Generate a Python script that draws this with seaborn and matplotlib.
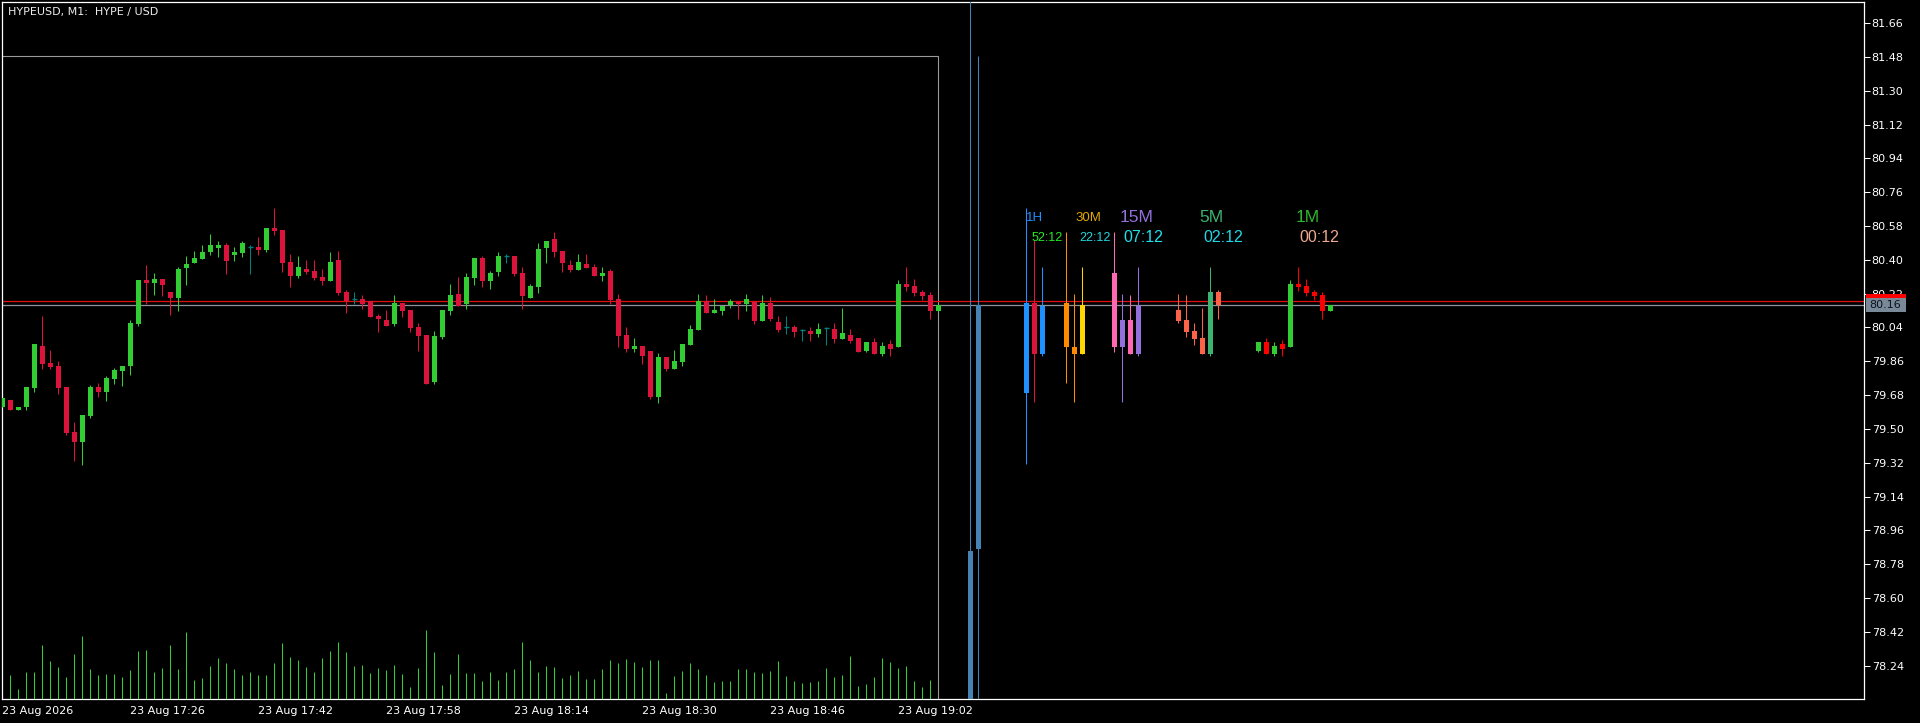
import seaborn as sns
import matplotlib.pyplot as plt
from matplotlib.patches import Rectangle
from matplotlib.transforms import blended_transform_factory

# ---- M1 candles, 17:10 .. 19:07 ----
opens = [79.619, 79.654, 79.601, 79.617, 79.718, 79.942, 79.852, 79.836, 79.724, 79.484,
         79.431, 79.569, 79.724, 79.697, 79.766, 79.809, 79.836, 80.059, 80.294, 80.277,
         80.299, 80.230, 80.198, 80.357, 80.384, 80.405, 80.443, 80.464, 80.480, 80.427,
         80.437, 80.469, 80.469, 80.453, 80.570, 80.560, 80.389, 80.315, 80.352, 80.341,
         80.309, 80.288, 80.400, 80.230, 80.192, 80.192, 80.182, 80.102, 80.081, 80.059,
         80.171, 80.134, 80.043, 80.001, 79.750, 79.990, 80.128, 80.219, 80.166, 80.304,
         80.411, 80.288, 80.336, 80.419, 80.421, 80.331, 80.198, 80.256, 80.464, 80.512,
         80.448, 80.373, 80.347, 80.379, 80.363, 80.315, 80.341, 80.192, 80.001, 79.926,
         79.942, 79.915, 79.670, 79.883, 79.820, 79.857, 79.947, 80.027, 80.182, 80.118,
         80.128, 80.160, 80.176, 80.166, 80.176, 80.075, 80.171, 80.070, 80.041, 80.043,
         80.024, 80.022, 80.006, 80.038, 80.033, 79.979, 80.001, 79.985, 79.915, 79.963,
         79.899, 79.953, 79.937, 80.272, 80.262, 80.230, 80.214, 80.128]
highs = [79.663, 79.654, 79.617, 79.724, 79.953, 80.102, 79.921, 79.862, 79.724, 79.537,
         79.575, 79.734, 79.745, 79.782, 79.825, 79.836, 80.081, 80.294, 80.373, 80.331,
         80.299, 80.230, 80.363, 80.421, 80.448, 80.480, 80.538, 80.501, 80.490, 80.469,
         80.501, 80.480, 80.522, 80.570, 80.677, 80.560, 80.432, 80.421, 80.400, 80.400,
         80.352, 80.443, 80.448, 80.240, 80.230, 80.214, 80.182, 80.112, 80.134, 80.214,
         80.171, 80.134, 80.065, 80.001, 80.022, 80.134, 80.272, 80.309, 80.331, 80.411,
         80.421, 80.341, 80.443, 80.432, 80.421, 80.363, 80.272, 80.490, 80.501, 80.549,
         80.448, 80.400, 80.432, 80.432, 80.379, 80.363, 80.352, 80.219, 80.043, 79.985,
         79.942, 79.915, 79.905, 79.883, 79.921, 79.953, 80.054, 80.219, 80.214, 80.192,
         80.155, 80.192, 80.176, 80.219, 80.176, 80.214, 80.203, 80.102, 80.102, 80.054,
         80.033, 80.043, 80.065, 80.043, 80.065, 80.144, 80.033, 79.985, 79.963, 79.985,
         79.963, 79.974, 80.294, 80.363, 80.299, 80.240, 80.230, 80.160]
lows = [79.619, 79.601, 79.601, 79.601, 79.697, 79.820, 79.820, 79.686, 79.468, 79.330,
        79.308, 79.559, 79.670, 79.649, 79.740, 79.729, 79.788, 80.049, 80.166, 80.214,
        80.208, 80.107, 80.128, 80.267, 80.384, 80.405, 80.427, 80.416, 80.326, 80.395,
        80.416, 80.326, 80.427, 80.443, 80.533, 80.336, 80.256, 80.304, 80.326, 80.294,
        80.267, 80.288, 80.214, 80.118, 80.166, 80.139, 80.096, 80.017, 80.049, 80.049,
        80.096, 80.017, 79.915, 79.740, 79.740, 79.979, 80.107, 80.155, 80.139, 80.267,
        80.256, 80.246, 80.315, 80.384, 80.315, 80.139, 80.198, 80.224, 80.384, 80.416,
        80.336, 80.336, 80.347, 80.357, 80.315, 80.288, 80.166, 79.937, 79.910, 79.910,
        79.846, 79.660, 79.639, 79.809, 79.820, 79.836, 79.947, 80.027, 80.118, 80.118,
        80.107, 80.144, 80.086, 80.128, 80.059, 80.075, 80.075, 80.017, 80.006, 79.990,
        79.969, 79.969, 79.990, 79.947, 79.958, 79.979, 79.958, 79.910, 79.910, 79.899,
        79.889, 79.889, 79.937, 80.235, 80.208, 80.187, 80.086, 80.128]
closes = [79.663, 79.601, 79.617, 79.724, 79.953, 79.848, 79.830, 79.718, 79.479, 79.431,
          79.575, 79.724, 79.697, 79.772, 79.814, 79.836, 80.065, 80.294, 80.277, 80.299,
          80.267, 80.198, 80.352, 80.379, 80.411, 80.443, 80.480, 80.480, 80.395, 80.443,
          80.490, 80.469, 80.453, 80.570, 80.554, 80.384, 80.315, 80.363, 80.336, 80.304,
          80.288, 80.389, 80.224, 80.182, 80.192, 80.166, 80.096, 80.086, 80.049, 80.171,
          80.128, 80.038, 79.995, 79.740, 79.995, 80.134, 80.214, 80.155, 80.309, 80.411,
          80.288, 80.331, 80.421, 80.419, 80.326, 80.208, 80.262, 80.459, 80.501, 80.443,
          80.384, 80.347, 80.389, 80.357, 80.315, 80.331, 80.187, 79.995, 79.926, 79.942,
          79.889, 79.670, 79.883, 79.820, 79.862, 79.953, 80.033, 80.182, 80.118, 80.134,
          80.155, 80.182, 80.166, 80.192, 80.075, 80.171, 80.086, 80.027, 80.041, 80.017,
          80.024, 80.006, 80.033, 80.038, 79.979, 80.011, 79.969, 79.910, 79.963, 79.899,
          79.942, 79.926, 80.272, 80.256, 80.224, 80.208, 80.128, 80.160]
volumes = [0, 72, 30, 81, 81, 162, 114, 96, 66, 135, 189, 90, 72, 75, 75, 66, 87, 144, 147, 81,
           93, 162, 90, 201, 57, 63, 99, 123, 108, 90, 72, 81, 72, 72, 108, 168, 126, 117, 96, 81,
           123, 144, 171, 141, 99, 102, 78, 93, 87, 102, 75, 36, 93, 207, 141, 42, 75, 135, 77, 78,
           54, 81, 57, 81, 90, 171, 117, 81, 99, 96, 63, 72, 84, 60, 60, 90, 117, 108, 120, 111,
           96, 117, 117, 18, 69, 84, 108, 90, 72, 51, 54, 54, 90, 90, 81, 78, 84, 114, 69, 54,
           48, 51, 54, 93, 66, 72, 129, 39, 45, 66, 123, 111, 93, 99, 54, 36, 57, 0]

time_ticks = [0, 16, 32, 48, 64, 80, 96, 112]
time_labels = ['23 Aug 2026', '23 Aug 17:26', '23 Aug 17:42', '23 Aug 17:58',
               '23 Aug 18:14', '23 Aug 18:30', '23 Aug 18:46', '23 Aug 19:02']
price_ticks = [78.24, 78.42, 78.60, 78.78, 78.96, 79.14, 79.32, 79.50, 79.68, 79.86,
               80.04, 80.22, 80.40, 80.58, 80.76, 80.94, 81.12, 81.30, 81.48, 81.66]
bid = 80.16
ask = 80.18
day_high = 81.486

# ---- higher timeframe candles drawn to the right ----
d1_open = [77.40, 78.86]
d1_high = [82.60, 81.486]
d1_low = [77.10, 77.30]
d1_close = [78.85, 80.16]

h1_open = [79.691, 80.171, 79.899]
h1_high = [80.677, 80.506, 80.362]
h1_low = [79.313, 79.643, 79.888]
h1_close = [80.171, 79.899, 80.155]

m30_open = [80.171, 79.936, 79.899]
m30_high = [80.549, 80.219, 80.362]
m30_low = [79.745, 79.643, 79.899]
m30_close = [79.936, 79.899, 80.160]

m15_open = [80.330, 79.936, 80.080, 79.899]
m15_high = [80.549, 80.219, 80.213, 80.362]
m15_low = [79.910, 79.643, 79.899, 79.888]
m15_close = [79.936, 80.080, 79.899, 80.155]

m5_open = [80.133, 80.080, 80.022, 79.984, 79.899, 80.229]
m5_high = [80.219, 80.213, 80.064, 80.144, 80.362, 80.240]
m5_low = [80.064, 79.990, 79.947, 79.899, 79.888, 80.085]
m5_close = [80.075, 80.016, 79.979, 79.899, 80.229, 80.160]

tf_names = ['1H', '30M', '15M', '5M', '1M']
tf_timers = ['52:12', '22:12', '07:12', '02:12', '00:12']


def draw_candles(ax, xs, o, h, l, c, up, down, doji='#008080', width=0.62):
    cols = []
    for oo, cc in zip(o, c):
        if abs(cc - oo) < 1e-9:
            cols.append(doji)
        elif cc > oo:
            cols.append(up)
        else:
            cols.append(down)
    ax.vlines(xs, l, h, colors=cols, lw=0.75, zorder=3)
    for x, oo, cc, col in zip(xs, o, c, cols):
        if abs(cc - oo) < 1e-9:
            ax.hlines(oo, x - width / 2, x + width / 2, colors=col, lw=1.0, zorder=4)
        else:
            lo = min(oo, cc)
            ax.bar(x, max(abs(cc - oo), 0.006), bottom=lo, width=width,
                   color=col, linewidth=0, zorder=4)


sns.set_theme(style='dark', rc={'axes.facecolor': 'black', 'figure.facecolor': 'black',
                                 'axes.grid': False, 'axes.edgecolor': 'white'})
plt.rcParams['font.family'] = ['DejaVu Sans']

fig = plt.figure(figsize=(19.2, 7.23), dpi=100)
ax = fig.add_axes([2 / 1920, 24 / 723, 1862 / 1920, 697 / 723])
ax.set_facecolor('black')
ax.set_xlim(-0.04, -0.04 + 1862 / 8)
ax.set_ylim(78.062, 81.773)

# volume pane
vol = ax.twinx()
vol.set_ylim(0, 697 * 3)
vol.vlines(range(len(volumes)), 0, volumes, colors='#32CD32', lw=0.75)
vol.yaxis.set_visible(False)
for s in vol.spines.values():
    s.set_visible(False)

# range box and price lines
ax.add_patch(Rectangle((-5, 70), 117 + 5, day_high - 70, fill=False,
                       ec='#9a9a9a', lw=0.8, zorder=1))
ax.axhline(ask, color='#e01010', lw=0.9, zorder=2)
ax.axhline(bid, color='#8c939c', lw=0.9, zorder=2)

# M1 chart
idx = list(range(len(opens)))
draw_candles(ax, idx, opens, highs, lows, closes, '#32CD32', '#DC143C')

# higher timeframes
draw_candles(ax, [121, 122], d1_open, d1_high, d1_low, d1_close, '#4682B4', '#4682B4')
draw_candles(ax, [128, 129, 130], h1_open, h1_high, h1_low, h1_close, '#1E90FF', '#DC143C')
draw_candles(ax, [133, 134, 135], m30_open, m30_high, m30_low, m30_close, '#FFD700', '#FF8C00')
draw_candles(ax, [139, 140, 141, 142], m15_open, m15_high, m15_low, m15_close, '#9370DB', '#FF69B4')
draw_candles(ax, [147, 148, 149, 150, 151, 152], m5_open, m5_high, m5_low, m5_close, '#3CB371', '#FF6347')
draw_candles(ax, list(range(157, 167)), opens[-10:], highs[-10:], lows[-10:], closes[-10:],
             '#32CD32', '#FF0000')

# timeframe labels and countdowns
lab_font = ['Liberation Sans', 'DejaVu Sans']
name_x = [128.0, 134.1, 139.7, 149.6, 161.7]
name_col = ['#1E90FF', '#E0A800', '#9370DB', '#3CB371', '#2DB82D']
name_size = [9.5, 9.5, 12.5, 12.5, 12.5]
timer_x = [128.7, 134.6, 140.1, 150.1, 162.1]
timer_col = ['#22EE22', '#22D8E0', '#22E0EE', '#22D8E8', '#F0A890']
timer_size = [9, 9, 11.5, 11.5, 11.5]
for i in range(len(tf_names)):
    ax.text(name_x[i], 80.623, tf_names[i], color=name_col[i], fontsize=name_size[i],
            family=lab_font, va='center', ha='left', zorder=6)
    ax.text(timer_x[i], 80.519, tf_timers[i], color=timer_col[i], fontsize=timer_size[i],
            family=lab_font, va='center', ha='left', zorder=6)

# axes styling
ax.yaxis.tick_right()
ax.set_yticks(price_ticks, [f'{p:.2f}' for p in price_ticks])
ax.set_xticks(time_ticks, time_labels)
for lbl in ax.get_xticklabels():
    lbl.set_ha('left')
ax.tick_params(axis='y', colors='white', length=4, width=0.75, pad=1.5, labelsize=8)
ax.tick_params(axis='x', colors='white', length=3, width=0.75, pad=2, labelsize=8)
for s in ax.spines.values():
    s.set_color('white')
    s.set_linewidth(0.9)

ax.text(6 / 1862, 1 - 10 / 697, 'HYPEUSD, M1:  HYPE / USD', transform=ax.transAxes,
        color='#ececec', fontsize=8, va='center', ha='left')

# bid label on the price scale
tr = blended_transform_factory(ax.transAxes, ax.transData)
ax.add_patch(Rectangle((1.001, bid - 0.035), 0.0215, 0.07, transform=tr,
                       fc='#7a8998', ec='none', clip_on=False, zorder=8))
ax.add_patch(Rectangle((1.001, bid + 0.035), 0.0215, 0.021, transform=tr,
                       fc='#ff0000', ec='none', clip_on=False, zorder=8))
ax.text(1.0028, bid, f'{bid:.2f}', transform=tr, color='#0b1220', fontsize=8,
        va='center', ha='left', clip_on=False, zorder=9)

fig.savefig('out.png', dpi=100, facecolor='black')
